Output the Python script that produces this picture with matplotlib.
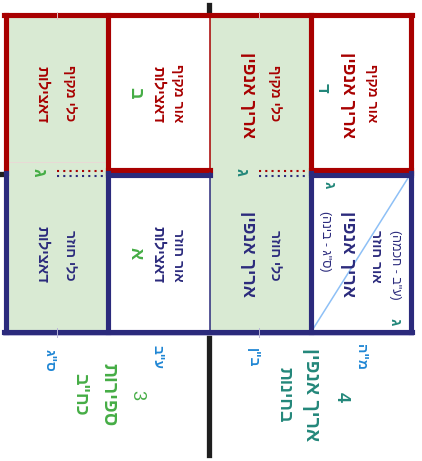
import matplotlib
matplotlib.use("Agg")
import matplotlib.pyplot as plt
from matplotlib.patches import Rectangle

plt.rcParams['font.family'] = ['Liberation Sans', 'DejaVu Sans']

RED = '#a80000'
NAVY = '#2b2a7c'
GREEN_FILL = '#d9ead3'
GREEN_TXT = '#45ad45'
TEAL = '#23877a'
SKY = '#1f86d4'

# column edges of the table (left outer, inner, middle, inner, right outer)
col_x = [6, 107.5, 209.5, 310.5, 410.5]
row_y = [15.5, 173, 331.5]

# cell texts: (first line, second line) for each cell, left to right
top_cells = [("כלי מקיף", "דאצילות"), ("אור מקיף", "דאצילות"),
             ("כלי מקיף", "אריך אנפין"), ("אור מקיף", "אריך אנפין")]
bottom_cells = [("כלי חוזר", "דאצילות"), ("אור חוזר", "דאצילות"),
                ("כלי חוזר", "אריך אנפין"), ("אור חוזר", "אריך אנפין")]
side_notes = ['(ע"ב - חכמה)', '(ס"ג - בינה)']

# corner letters
letters_left = ["ב", "ג", "א"]
letters_right = ["ד", "ג", "ג", "ג"]

# labels under the table
left_label = ["3", "ספירות", 'כח"ב']
right_label = ["4", "אריך אנפין", "בחינות"]
sky_labels = ['ע"ב', 'ס"ג', 'מ"ה', 'ב"ן']


def heb(s):
    return s[::-1].translate(str.maketrans('()', ')('))


def vtext(ax, x, y, s, size, color, bold=False):
    ax.text(x, y, heb(s), rotation=-90, ha='center', va='center',
            fontsize=size, color=color,
            fontweight='bold' if bold else 'normal')


fig = plt.figure(figsize=(4.22, 4.61), dpi=100)
ax = fig.add_axes([0, 0, 1, 1])
ax.set_xlim(0, 422)
ax.set_ylim(461, 0)
ax.axis('off')

# black cross behind the table
ax.plot([208.5, 208.5], [5, 455], color='#1e1e1e', lw=3.8, zorder=0)
ax.plot([0, 208], [174, 174], color='#1e1e1e', lw=3.8, zorder=0)

# green and white cells
for x0, x1 in [(col_x[0], col_x[1]), (col_x[2], col_x[3])]:
    ax.add_patch(Rectangle((x0, row_y[0]), x1 - x0, row_y[2] - row_y[0],
                           facecolor=GREEN_FILL, edgecolor='none', zorder=1))
for x0, x1 in [(col_x[1], col_x[2]), (col_x[3], col_x[4])]:
    ax.add_patch(Rectangle((x0, row_y[0]), x1 - x0, row_y[2] - row_y[0],
                           facecolor='white', edgecolor='none', zorder=1))

thick = 3.7
# red half
ax.plot([col_x[0] - 1.8, col_x[4] + 1.8], [row_y[0], row_y[0]], color=RED, lw=thick, zorder=3)
for cx in [col_x[0], col_x[1], col_x[3], col_x[4]]:
    ax.plot([cx, cx], [row_y[0], row_y[1]], color=RED, lw=thick, zorder=3)
ax.plot([col_x[2], col_x[2]], [row_y[0], row_y[1]], color=RED, lw=1.1, zorder=3)
for x0, x1 in [(col_x[1], col_x[2]), (col_x[3], col_x[4])]:
    ax.plot([x0, x1], [170.5, 170.5], color=RED, lw=thick, zorder=3)
# blue half
ax.plot([col_x[0] - 1.8, col_x[4] + 1.8], [row_y[2], row_y[2]], color=NAVY, lw=thick, zorder=3)
for cx in [col_x[0], col_x[1], col_x[3], col_x[4]]:
    ax.plot([cx, cx], [row_y[1], row_y[2]], color=NAVY, lw=thick, zorder=3)
ax.plot([col_x[2], col_x[2]], [row_y[1], row_y[2]], color=NAVY, lw=1.1, zorder=3)
for x0, x1 in [(col_x[1], col_x[2]), (col_x[3], col_x[4])]:
    ax.plot([x0, x1], [175.5, 175.5], color=NAVY, lw=thick, zorder=3)
# dotted joins in the green cells
for x0, x1 in [(57, 105), (259, 308)]:
    ax.plot([x0, x1], [171, 171], color=RED, lw=1.5, ls=(0, (1, 2)), zorder=3)
    ax.plot([x0, x1], [176.5, 176.5], color=NAVY, lw=1.5, ls=(0, (1, 2)), zorder=3)

# faint guide lines
for gx in [57, 259]:
    ax.plot([gx, gx], [12, 19], color='#e6c4c4', lw=0.7, zorder=4)
    ax.plot([gx, gx], [328, 337], color='#b8b4d8', lw=0.7, zorder=4)
ax.plot([3, 413], [334.5, 334.5], color='#b8b4d8', lw=0.6, zorder=2)
ax.plot([8, 105], [162, 162], color='#ecd6d6', lw=0.6, zorder=2)

# diagonal in the lower right cell
ax.plot([313, 408], [329, 178], color='#8ec0f6', lw=1.1, zorder=2)

# texts in cells
line1_x = [70, 178, 275, 372]
line2_x = [42, 158, 247, 348]
for i, (a, b) in enumerate(top_cells):
    big = i >= 2
    vtext(ax, line1_x[i], 93, a, 10, RED, bold=True)
    vtext(ax, line2_x[i], 95, b, 13 if big else 11, RED, bold=True)
for i, (a, b) in enumerate(bottom_cells):
    big = i >= 2
    if i == 3:
        vtext(ax, 376, 256, a, 10, NAVY, bold=True)
    else:
        vtext(ax, line1_x[i], 255, a, 10, NAVY, bold=True)
    vtext(ax, line2_x[i], 254, b, 13 if big else 11, NAVY, bold=True)
vtext(ax, 395, 265, side_notes[0], 9, NAVY)
vtext(ax, 325, 241, side_notes[1], 9, NAVY)

# corner letters
vtext(ax, 135, 93, letters_left[0], 13, GREEN_TXT, bold=True)
vtext(ax, 38, 172, letters_left[1], 13, GREEN_TXT, bold=True)
vtext(ax, 135, 253, letters_left[2], 13, GREEN_TXT, bold=True)
vtext(ax, 322, 88, letters_right[0], 12, TEAL, bold=True)
vtext(ax, 241, 172, letters_right[1], 12, TEAL, bold=True)
vtext(ax, 328, 185, letters_right[2], 11, TEAL, bold=True)
vtext(ax, 394, 322, letters_right[3], 11, TEAL, bold=True)

# labels under the table
vtext(ax, 137, 395, left_label[0], 13, GREEN_TXT)
vtext(ax, 108, 395, left_label[1], 14, GREEN_TXT, bold=True)
vtext(ax, 80, 394, left_label[2], 13, GREEN_TXT, bold=True)
vtext(ax, 341, 397, right_label[0], 13, TEAL, bold=True)
vtext(ax, 311, 395, right_label[1], 14, TEAL, bold=True)
vtext(ax, 284, 395, right_label[2], 13, TEAL, bold=True)
for (sx, sy), s in zip([(158, 357), (50, 360), (361, 357), (253, 358)], sky_labels):
    vtext(ax, sx, sy, s, 10, SKY, bold=True)

fig.savefig('out.png', dpi=100, facecolor='white')
